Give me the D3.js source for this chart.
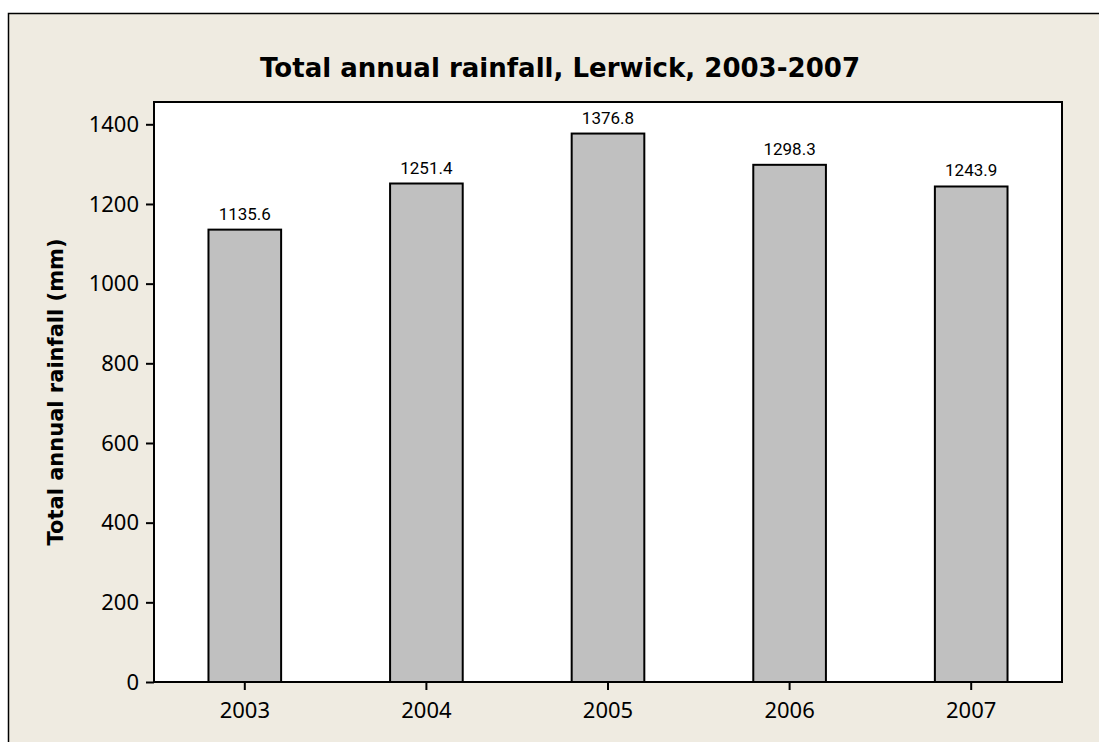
<!DOCTYPE html>
<html>
<head>
<meta charset="utf-8">
<script src="https://cdn.jsdelivr.net/npm/d3@7"></script>
<style>
  html, body { margin: 0; padding: 0; background: #ffffff; }
  svg { display: block; }
</style>
</head>
<body>
<script>
const years = ["2003", "2004", "2005", "2006", "2007"];
const rainfall = [1135.6, 1251.4, 1376.8, 1298.3, 1243.9];
const yTicks = [0, 200, 400, 600, 800, 1000, 1200, 1400];
const titleText = "Total annual rainfall, Lerwick, 2003-2007";
const yLabelText = "Total annual rainfall (mm)";

const W = 1099, H = 742;
const plot = { left: 154, top: 102, right: 1062, bottom: 682 };

const svg = d3.select("body").append("svg").attr("width", W).attr("height", H);

// outer frame
svg.append("rect").attr("x", 0).attr("y", 0).attr("width", W).attr("height", H).attr("fill", "#ffffff");
svg.append("rect").attr("x", 8.5).attr("y", 13.5).attr("width", W + 20).attr("height", H + 20)
  .attr("fill", "#EFEBE1").attr("stroke", "#000").attr("stroke-width", 1.5);

// plot area
svg.append("rect").attr("x", plot.left).attr("y", plot.top)
  .attr("width", plot.right - plot.left).attr("height", plot.bottom - plot.top)
  .attr("fill", "#ffffff");

const x = d3.scaleBand().domain(years).range([plot.left, plot.right])
  .paddingInner(0.6).paddingOuter(0.3);
const y = d3.scaleLinear().domain([0, 1456]).range([plot.bottom, plot.top]);

// bars
svg.append("g").selectAll("rect").data(years).join("rect")
  .attr("x", d => x(d))
  .attr("y", (d, i) => y(rainfall[i]))
  .attr("width", x.bandwidth())
  .attr("height", (d, i) => y(0) - y(rainfall[i]))
  .attr("fill", "#C0C0C0").attr("stroke", "#000").attr("stroke-width", 2);

// value labels
svg.append("g").selectAll("text").data(years).join("text")
  .attr("x", d => x(d) + x.bandwidth() / 2)
  .attr("y", (d, i) => y(rainfall[i]) - 10)
  .attr("text-anchor", "middle")
  .attr("font-family", "Roboto, 'Liberation Sans', sans-serif")
  .attr("font-size", 17)
  .attr("fill", "#000")
  .text((d, i) => rainfall[i].toFixed(1));

// plot border
svg.append("rect").attr("x", plot.left).attr("y", plot.top)
  .attr("width", plot.right - plot.left).attr("height", plot.bottom - plot.top)
  .attr("fill", "none").attr("stroke", "#000").attr("stroke-width", 2);

// axes
const yAxis = svg.append("g").attr("transform", `translate(${plot.left},0)`)
  .call(d3.axisLeft(y).tickValues(yTicks).tickSize(8).tickPadding(7).tickFormat(d3.format("d")));
const xAxis = svg.append("g").attr("transform", `translate(0,${plot.bottom})`)
  .call(d3.axisBottom(x).tickSize(8).tickPadding(6));
[yAxis, xAxis].forEach(g => {
  g.select(".domain").remove();
  g.selectAll(".tick line").attr("stroke", "#000").attr("stroke-width", 2);
  g.selectAll(".tick text").attr("font-family", "'Noto Sans', 'Open Sans', sans-serif")
    .attr("font-size", 22).attr("fill", "#000");
});
xAxis.selectAll(".tick text").attr("dy", "1.0em");

// title
svg.append("text").attr("x", 560).attr("y", 77)
  .attr("text-anchor", "middle")
  .attr("font-family", "'DejaVu Sans', Verdana, sans-serif")
  .attr("font-weight", "bold").attr("font-size", 26)
  .attr("textLength", 600).attr("lengthAdjust", "spacingAndGlyphs")
  .attr("fill", "#000")
  .text(titleText);

// y label
svg.append("text")
  .attr("transform", `translate(63,${(plot.top + plot.bottom) / 2}) rotate(-90)`)
  .attr("text-anchor", "middle")
  .attr("font-family", "'DejaVu Sans', Verdana, sans-serif")
  .attr("font-weight", "bold").attr("font-size", 21)
  .attr("fill", "#000")
  .text(yLabelText);
</script>
</body>
</html>
